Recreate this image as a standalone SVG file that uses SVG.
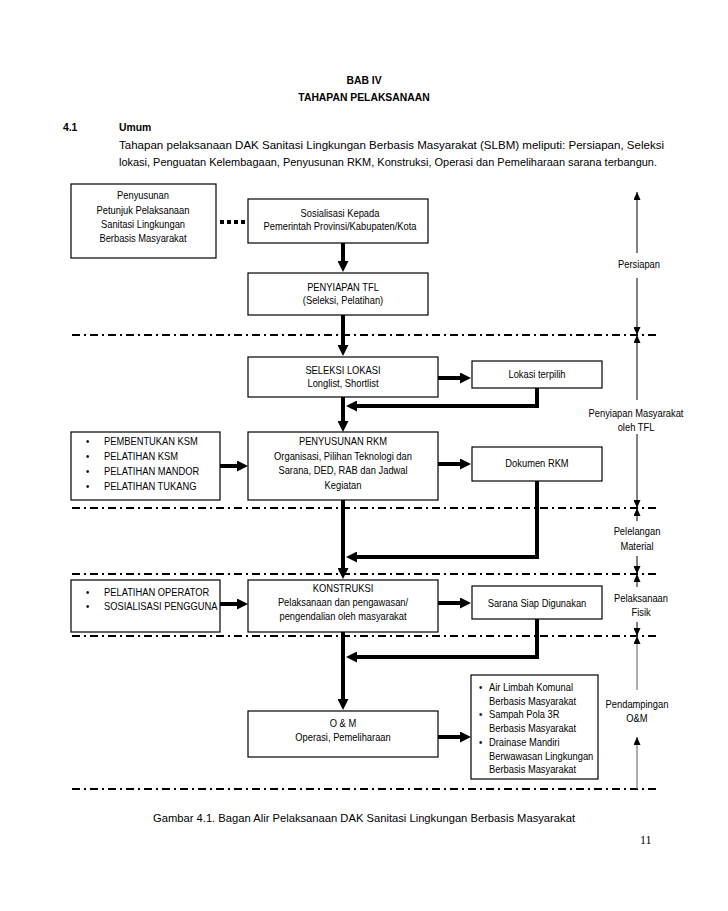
<svg xmlns="http://www.w3.org/2000/svg" width="728" height="911" viewBox="0 0 728 911">
<style>
text{font-family:"Liberation Sans",Arial,sans-serif;fill:#000}
.t{font-size:11px;transform:scaleX(0.85);transform-box:fill-box;transform-origin:center}
.l{transform-origin:left center}
.c{text-anchor:middle}
.h{font-size:11.5px;font-weight:bold;transform:scaleX(0.9);transform-box:fill-box;transform-origin:center}
.hl{transform-origin:left center}
.p{font-size:11px}
.box{fill:#fff;stroke:#000;stroke-width:1.2}
.thick{fill:none;stroke:#000;stroke-width:4;stroke-linejoin:miter}
.dd{fill:none;stroke:#000;stroke-width:2;stroke-dasharray:8 4 2 4}
.thin{fill:none;stroke:#000;stroke-width:1}
.gray{fill:none;stroke:#777;stroke-width:1.2}
</style>
<defs>
<marker id="big" markerUnits="userSpaceOnUse" markerWidth="11" markerHeight="11" refX="7" refY="5.5" orient="auto"><path d="M0,0 L11,5.5 L0,11 z" fill="#000"/></marker>
<marker id="sm" markerUnits="userSpaceOnUse" markerWidth="8" markerHeight="7" refX="8" refY="3.5" orient="auto"><path d="M0,0 L8,3.5 L0,7 z" fill="#000"/></marker>
</defs>
<rect width="728" height="911" fill="#fff"/>

<g id="header">
<text class="h c" x="364" y="84">BAB IV</text>
<text class="h c" x="364" y="101">TAHAPAN PELAKSANAAN</text>
<text class="h hl" x="63" y="131">4.1</text>
<text class="h hl" x="119" y="131">Umum</text>
<text class="p" x="119" y="149" textLength="545" lengthAdjust="spacingAndGlyphs">Tahapan pelaksanaan DAK Sanitasi Lingkungan Berbasis Masyarakat (SLBM) meliputi: Persiapan, Seleksi</text>
<text class="p" x="119" y="166" textLength="538" lengthAdjust="spacingAndGlyphs">lokasi, Penguatan Kelembagaan, Penyusunan RKM, Konstruksi, Operasi dan Pemeliharaan sarana terbangun.</text>
</g>

<g id="phase-lines">
<path class="dd" d="M72,335 H656"/>
<path class="dd" d="M72,508 H656"/>
<path class="dd" d="M72,574 H656"/>
<path class="dd" d="M72,636 H656"/>
<path class="dd" d="M72,789 H656"/>
</g>

<g id="connectors">
<path d="M220,222 H247" fill="none" stroke="#000" stroke-width="4" stroke-dasharray="4 3"/>
<path class="thick" d="M343,243 V268" marker-end="url(#big)"/>
<path class="thick" d="M343,315 V352" marker-end="url(#big)"/>
<path class="thick" d="M438,378 H467" marker-end="url(#big)"/>
<path class="thick" d="M537,388 V406 H350" marker-end="url(#big)"/>
<path class="thick" d="M343,397 V428" marker-end="url(#big)"/>
<path class="thick" d="M220,466 H244" marker-end="url(#big)"/>
<path class="thick" d="M438,464 H467" marker-end="url(#big)"/>
<path class="thick" d="M537,481 V557 H350" marker-end="url(#big)"/>
<path class="thick" d="M343,500 V575" marker-end="url(#big)"/>
<path class="thick" d="M220,604 H244" marker-end="url(#big)"/>
<path class="thick" d="M438,603 H467" marker-end="url(#big)"/>
<path class="thick" d="M537,619 V657 H350" marker-end="url(#big)"/>
<path class="thick" d="M343,632 V706" marker-end="url(#big)"/>
<path class="thick" d="M438,737 H467" marker-end="url(#big)"/>
</g>

<g id="phase-arrows">
<path class="thin" d="M637,253 V192" marker-end="url(#sm)"/>
<path class="thin" d="M637,278 V335" marker-end="url(#sm)"/>
<path class="thin" d="M637,400 V335" marker-end="url(#sm)"/>
<path class="thin" d="M637,434 V508" marker-end="url(#sm)"/>
<path class="thin" d="M637,521 V508" marker-end="url(#sm)"/>
<path class="thin" d="M637,556 V574" marker-end="url(#sm)"/>
<path class="thin" d="M637,587 V574" marker-end="url(#sm)"/>
<path class="thin" d="M637,622 V636" marker-end="url(#sm)"/>
<path class="gray" d="M637,690 V636" marker-end="url(#sm)"/>
<path class="gray" d="M637,789 V737" marker-end="url(#sm)"/>
<text class="t c" x="639" y="268">Persiapan</text>
<text class="t c" x="636" y="417">Penyiapan Masyarakat</text>
<text class="t c" x="636" y="431">oleh TFL</text>
<text class="t c" x="637" y="535">Pelelangan</text>
<text class="t c" x="637" y="550">Material</text>
<text class="t c" x="641" y="602">Pelaksanaan</text>
<text class="t c" x="641" y="616">Fisik</text>
<text class="t c" x="637" y="708">Pendampingan</text>
<text class="t c" x="637" y="722">O&amp;M</text>
</g>

<g id="n-petunjuk">
<rect class="box" x="71" y="184" width="145" height="74"/>
<text class="t c" x="143" y="199">Penyusunan</text>
<text class="t c" x="143" y="214">Petunjuk Pelaksanaan</text>
<text class="t c" x="143" y="228">Sanitasi Lingkungan</text>
<text class="t c" x="143" y="242">Berbasis Masyarakat</text>
</g>

<g id="n-sosialisasi">
<rect class="box" x="248" y="199" width="180" height="44"/>
<text class="t c" x="340" y="217">Sosialisasi Kepada</text>
<text class="t c" x="340" y="230">Pemerintah Provinsi/Kabupaten/Kota</text>
</g>

<g id="n-tfl">
<rect class="box" x="248" y="273" width="180" height="42"/>
<text class="t c" x="343" y="291">PENYIAPAN TFL</text>
<text class="t c" x="343" y="304">(Seleksi, Pelatihan)</text>
</g>

<g id="n-seleksi">
<rect class="box" x="248" y="357" width="190" height="40"/>
<text class="t c" x="343" y="374">SELEKSI LOKASI</text>
<text class="t c" x="343" y="387">Longlist, Shortlist</text>
</g>

<g id="n-lokasi">
<rect class="box" x="472" y="361" width="130" height="27"/>
<text class="t c" x="537" y="378">Lokasi terpilih</text>
</g>

<g id="n-ksm">
<rect class="box" x="71" y="432" width="149" height="68"/>
<text class="t l" x="86" y="445">•</text><text class="t l" x="104" y="445">PEMBENTUKAN KSM</text>
<text class="t l" x="86" y="460">•</text><text class="t l" x="104" y="460">PELATIHAN KSM</text>
<text class="t l" x="86" y="475">•</text><text class="t l" x="104" y="475">PELATIHAN MANDOR</text>
<text class="t l" x="86" y="490">•</text><text class="t l" x="104" y="490">PELATIHAN TUKANG</text>
</g>

<g id="n-rkm">
<rect class="box" x="248" y="432" width="190" height="68"/>
<text class="t c" x="343" y="445">PENYUSUNAN RKM</text>
<text class="t c" x="343" y="460">Organisasi, Pilihan Teknologi dan</text>
<text class="t c" x="343" y="474">Sarana, DED, RAB dan Jadwal</text>
<text class="t c" x="343" y="489">Kegiatan</text>
</g>

<g id="n-dokumen">
<rect class="box" x="472" y="447" width="130" height="34"/>
<text class="t c" x="537" y="467">Dokumen RKM</text>
</g>

<g id="n-operator">
<rect class="box" x="71" y="580" width="149" height="52"/>
<text class="t l" x="86" y="596">•</text><text class="t l" x="104" y="596">PELATIHAN OPERATOR</text>
<text class="t l" x="86" y="610">•</text><text class="t l" x="104" y="610">SOSIALISASI PENGGUNA</text>
</g>

<g id="n-konstruksi">
<rect class="box" x="248" y="580" width="190" height="52"/>
<text class="t c" x="343" y="592">KONSTRUKSI</text>
<text class="t c" x="343" y="606">Pelaksanaan dan pengawasan/</text>
<text class="t c" x="343" y="620">pengendalian oleh masyarakat</text>
</g>

<g id="n-sarana">
<rect class="box" x="472" y="586" width="130" height="33"/>
<text class="t c" x="537" y="607">Sarana Siap Digunakan</text>
</g>

<g id="n-om">
<rect class="box" x="248" y="711" width="190" height="46"/>
<text class="t c" x="343" y="727">O &amp; M</text>
<text class="t c" x="343" y="741">Operasi, Pemeliharaan</text>
</g>

<g id="n-hasil">
<rect class="box" x="471" y="675" width="127" height="104"/>
<text class="t l" x="479" y="691">•</text><text class="t l" x="489" y="691">Air Limbah Komunal</text>
<text class="t l" x="489" y="705">Berbasis Masyarakat</text>
<text class="t l" x="479" y="718">•</text><text class="t l" x="489" y="718">Sampah Pola 3R</text>
<text class="t l" x="489" y="732">Berbasis Masyarakat</text>
<text class="t l" x="479" y="746">•</text><text class="t l" x="489" y="746">Drainase Mandiri</text>
<text class="t l" x="489" y="760">Berwawasan Lingkungan</text>
<text class="t l" x="489" y="773">Berbasis Masyarakat</text>
</g>

<g id="caption">
<text class="p" x="153" y="822" textLength="422" lengthAdjust="spacingAndGlyphs">Gambar 4.1. Bagan Alir Pelaksanaan DAK Sanitasi Lingkungan Berbasis Masyarakat</text>
<text x="640" y="844" style="font-family:'Liberation Serif','Times New Roman',serif;font-size:12px">11</text>
</g>
</svg>
